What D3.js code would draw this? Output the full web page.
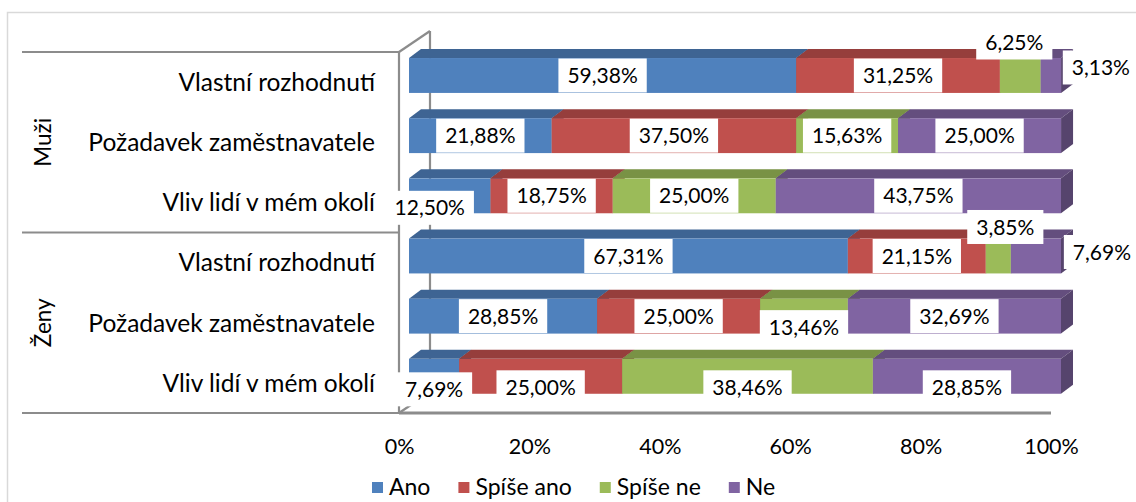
<!DOCTYPE html>
<html>
<head>
<meta charset="utf-8">
<script src="https://cdn.jsdelivr.net/npm/d3@7"></script>
<style>
  html, body { margin: 0; padding: 0; background: #fff; }
  svg { display: block; font-family: Lato, "Open Sans", sans-serif; }
  text { fill: #000; }
  .val { font-size: 21px; }
  .cat { font-size: 24.5px; }
  .grp { font-size: 22.5px; }
  .tick { font-size: 21.5px; }
  .leg { font-size: 23px; }
</style>
</head>
<body>
<div id="chart"></div>
<script>
// --- data ---
const groups = ['Muži', 'Ženy'];
const reasons = ['Vlastní rozhodnutí', 'Požadavek zaměstnavatele', 'Vliv lidí v mém okolí'];
const seriesNames = ['Ano', 'Spíše ano', 'Spíše ne', 'Ne'];
const ano      = [59.38, 21.88, 12.50, 67.31, 28.85, 7.69];
const spiseAno = [31.25, 37.50, 18.75, 21.15, 25.00, 25.00];
const spiseNe  = [6.25, 15.63, 25.00, 3.85, 13.46, 38.46];
const ne       = [3.13, 25.00, 43.75, 7.69, 32.69, 28.85];
const ticks = [0, 20, 40, 60, 80, 100];

// data label nudges (Excel moved the small ones off the bar): [row, series, dx, dy]
const labelNudge = [
  [0, 2, -6, -33], [0, 3, 50, -8],
  [2, 0, -20, 12],
  [3, 2, 7, -29], [3, 3, 66, -4],
  [4, 2, 0, 11],
  [5, 0, 0, 13], [5, 1, 0, 11], [5, 2, 0, 11], [5, 3, 0, 11],
];

// --- layout ---
const W = 1136, H = 502;
const colors = ['#4F81BD', '#C0504D', '#9BBB59', '#8064A2'];
const depth = { dx: 12, dy: 9 };      // bar 3D depth
const shift = { dx: 10, dy: -6.6 };   // bars sit a bit back from the front plane
const wall = { dx: 31, dy: -21 };     // floor depth
const axisColor = '#8C8C8C';

const rows = [];
groups.forEach(g => reasons.forEach(r => rows.push(g + '|' + r)));

const table = rows.map((key, i) => ({
  key, Ano: ano[i], 'Spíše ano': spiseAno[i], 'Spíše ne': spiseNe[i], Ne: ne[i]
}));
const stacked = d3.stack().keys(seriesNames)(table);

const x = d3.scaleLinear().domain([0, 100]).range([399, 1051]);
const y = d3.scaleBand().domain(rows).range([52, 413]).paddingInner(0.42).paddingOuter(0.21);
const color = d3.scaleOrdinal().domain(seriesNames).range(colors);

const svg = d3.select('#chart').append('svg').attr('width', W).attr('height', H);

// chart frame
svg.append('rect')
  .attr('x', 7.5).attr('y', 12.5).attr('width', W + 20).attr('height', H + 20)
  .attr('fill', '#fff').attr('stroke', '#D9D9D9').attr('stroke-width', 1.5);

// --- axes / walls ---
const yTop = y.range()[0], yBottom = y.range()[1];
const x0 = x(0);
const grid = svg.append('g').attr('stroke', axisColor).attr('stroke-width', 2.2).attr('fill', 'none');

// horizontal group separators on the left
const seps = [yTop, (yTop + yBottom) / 2, yBottom];
grid.selectAll('.sep').data(seps).join('line')
  .attr('x1', 22).attr('x2', x0).attr('y1', d => d).attr('y2', d => d);
// front vertical axis
grid.append('line').attr('x1', x0).attr('x2', x0).attr('y1', yTop).attr('y2', yBottom);
// back wall corner
grid.append('line').attr('x1', x0).attr('y1', yTop).attr('x2', x0 + wall.dx).attr('y2', yTop + wall.dy);
grid.append('line').attr('x1', x0 + wall.dx).attr('y1', yTop + wall.dy)
  .attr('x2', x0 + wall.dx).attr('y2', yBottom + wall.dy);
grid.append('line').attr('x1', x0).attr('y1', yBottom).attr('x2', x0 + wall.dx).attr('y2', yBottom + wall.dy);
// floor front edge
grid.append('line').attr('x1', x0).attr('x2', x(100)).attr('y1', yBottom).attr('y2', yBottom)
  .attr('stroke-width', 3);

// --- bars ---
const bw = y.bandwidth();
const barsG = svg.append('g');

rows.forEach((key, i) => {
  const yt = y(key) + shift.dy;
  const yb = yt + bw;
  stacked.forEach(s => {
    const seg = s[i];
    const xa = x(seg[0]) + shift.dx;
    const xb = x(seg[1]) + shift.dx;
    const c = d3.color(color(s.key));
    const g = barsG.append('g');
    // top face
    g.append('path')
      .attr('d', `M${xa},${yt}L${xb},${yt}L${xb + depth.dx},${yt - depth.dy}L${xa + depth.dx},${yt - depth.dy}Z`)
      .attr('fill', c.darker(0.7));
    // right face
    g.append('path')
      .attr('d', `M${xb},${yt}L${xb + depth.dx},${yt - depth.dy}L${xb + depth.dx},${yb - depth.dy}L${xb},${yb}Z`)
      .attr('fill', c.darker(1.1));
    // front face
    g.append('rect')
      .attr('x', xa).attr('y', yt).attr('width', xb - xa).attr('height', bw)
      .attr('fill', c);
  });
});

// --- data labels ---
const fmt = v => v.toFixed(2).replace('.', ',') + '%';
const labelsG = svg.append('g');
rows.forEach((key, i) => {
  stacked.forEach((s, j) => {
    const seg = s[i];
    const n = labelNudge.find(d => d[0] === i && d[1] === j);
    const cx = (x(seg[0]) + x(seg[1])) / 2 + shift.dx + (n ? n[2] : 0);
    const cy = y(key) + shift.dy + bw / 2 + (n ? n[3] : 0);
    const g = labelsG.append('g').attr('transform', `translate(${cx},${cy})`);
    const box = g.append('rect').attr('fill', '#fff');
    const t = g.append('text').attr('class', 'val')
      .attr('text-anchor', 'middle').attr('dy', '0.36em')
      .text(fmt(seg[1] - seg[0]));
    const w = t.node().getComputedTextLength() + 18;
    box.attr('x', -w / 2).attr('y', -17).attr('width', w).attr('height', 34);
  });
});

// --- category labels ---
svg.append('g').selectAll('text').data(rows).join('text')
  .attr('class', 'cat')
  .attr('x', 375)
  .attr('y', d => y(d) + bw / 2)
  .attr('dy', '0.36em')
  .attr('text-anchor', 'end')
  .text(d => d.split('|')[1]);

// group labels
const groupMid = groups.map((g, k) => yTop + (yBottom - yTop) * (k + 0.5) / groups.length);
svg.append('g').selectAll('text').data(groups).join('text')
  .attr('class', 'grp')
  .attr('transform', (d, k) => `translate(51,${groupMid[k]}) rotate(-90)`)
  .attr('text-anchor', 'middle')
  .text(d => d);

// --- value axis ---
const xAxis = d3.axisBottom(x)
  .tickValues(ticks)
  .tickFormat(d => d + '%')
  .tickSize(0)
  .tickPadding(26);
const ax = svg.append('g').attr('transform', `translate(0,${yBottom})`).call(xAxis);
ax.select('.domain').remove();
ax.attr('font-family', null).attr('font-size', null);
ax.selectAll('text').attr('class', 'tick').attr('fill', null);

// --- legend ---
const legend = svg.append('g').attr('transform', 'translate(372,487)');
let lx = 0;
seriesNames.forEach(name => {
  const item = legend.append('g').attr('transform', `translate(${lx},0)`);
  item.append('rect').attr('x', 0).attr('y', -5).attr('width', 11).attr('height', 11)
    .attr('fill', color(name));
  const t = item.append('text').attr('class', 'leg')
    .attr('x', 17).attr('dy', '0.36em').text(name);
  lx += 17 + t.node().getComputedTextLength() + 28;
});
</script>
</body>
</html>
